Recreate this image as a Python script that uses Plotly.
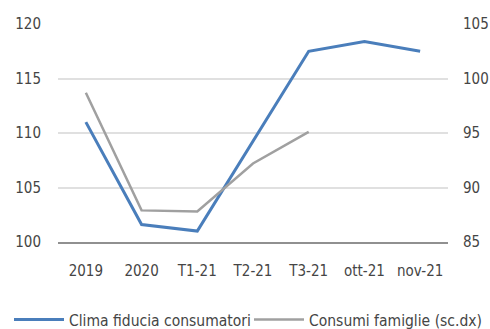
import plotly.graph_objects as go

categories = ["2019", "2020", "T1-21", "T2-21", "T3-21", "ott-21", "nov-21"]
clima_fiducia = [111.0, 101.6, 101.0, 109.3, 117.5, 118.4, 117.5]
consumi_famiglie = [98.7, 87.9, 87.8, 92.2, 95.1, None, None]

left_ticks = [100, 105, 110, 115, 120]
right_ticks = [85, 90, 95, 100, 105]

FONT = "DejaVu Sans Condensed, Liberation Sans Narrow, sans-serif"
TXT = "#454545"

fig = go.Figure()
fig.add_trace(go.Scatter(
    x=categories, y=clima_fiducia, mode="lines",
    name="Clima fiducia consumatori",
    line=dict(color="#4a7ebb", width=3),
    yaxis="y", legend="legend",
))
fig.add_trace(go.Scatter(
    x=categories, y=consumi_famiglie, mode="lines",
    name="Consumi famiglie (sc.dx)",
    line=dict(color="#a0a0a0", width=2.5),
    yaxis="y2", legend="legend2",
))

# both legends sit in the bottom strip of the figure, referenced to the container
legend_style = dict(
    orientation="h", yref="container", xref="container",
    y=0.079, xanchor="left", yanchor="top",
    font=dict(family=FONT, size=15.5, color=TXT),
    itemwidth=50, bgcolor="rgba(0,0,0,0)",
)

fig.update_layout(
    width=490, height=329,
    margin=dict(l=58, r=42, t=24, b=87, autoexpand=False),
    paper_bgcolor="white", plot_bgcolor="white",
    font=dict(family=FONT, size=14, color=TXT),
    showlegend=True,
    legend=dict(x=9 / 490, **legend_style),
    legend2=dict(x=249 / 490, **legend_style),
    xaxis=dict(
        type="category", range=[-0.5, 6.5], automargin=False,
        showgrid=False, showline=True,
        linecolor="#909090", linewidth=1.5,
        ticks="", ticklabelstandoff=14,
        tickfont=dict(family=FONT, size=15, color=TXT),
    ),
    yaxis=dict(
        range=[100, 120], tickvals=left_ticks, automargin=False,
        showgrid=True, gridcolor="#e0e0e0", gridwidth=1.5,
        zeroline=False, showline=False, ticks="",
        ticklabelstandoff=16,
        tickfont=dict(family=FONT, size=15, color=TXT),
    ),
    yaxis2=dict(
        range=[85, 105], tickvals=right_ticks, automargin=False,
        overlaying="y", side="right",
        showgrid=False, zeroline=False, showline=False, ticks="",
        ticklabelstandoff=14,
        tickfont=dict(family=FONT, size=15, color=TXT),
    ),
)

fig.write_html("out.html")
